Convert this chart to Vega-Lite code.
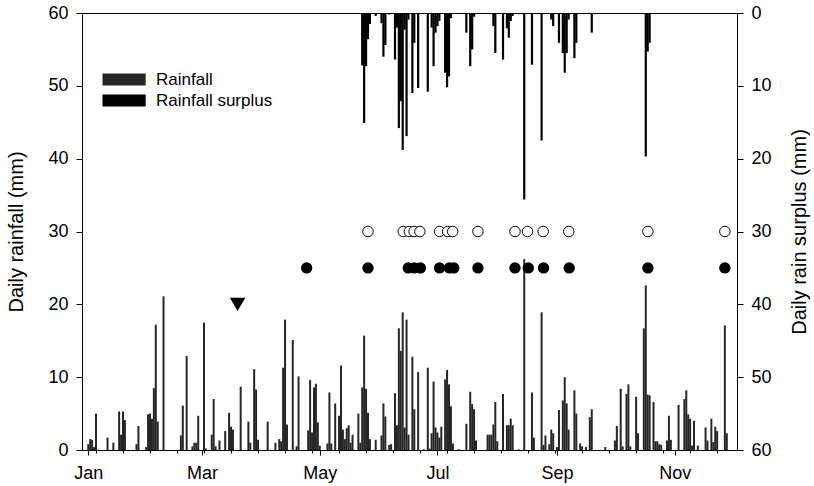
{
  "$schema": "https://vega.github.io/schema/vega-lite/v6.json",
  "autosize": "none",
  "width": 655,
  "height": 437,
  "padding": {"left": 82, "top": 13, "right": 77, "bottom": 36},
  "background": "white",
  "config": {
    "font": "Liberation Sans",
    "view": {"stroke": "black", "strokeWidth": 1},
    "axis": {"domainColor": "black", "tickColor": "black", "labelColor": "black", "titleColor": "black", "labelFont": "Liberation Sans", "titleFont": "Liberation Sans", "labelFontSize": 18, "titleFontSize": 20, "titleFontWeight": "normal", "grid": false, "domainWidth": 1, "tickWidth": 1}
  },
  "datasets": {
    "rain": [
      {"doy":1,"mm":0.8},{"doy":2,"mm":1.5},{"doy":3,"mm":1.4},{"doy":4,"mm":0.4},{"doy":5,"mm":5.0},{"doy":11,"mm":1.7},{"doy":14,"mm":1.0},{"doy":17,"mm":5.3},{"doy":18,"mm":2.1},{"doy":19,"mm":5.3},{"doy":20,"mm":4.1},{"doy":26,"mm":0.8},{"doy":27,"mm":3.3},{"doy":31,"mm":0.4},{"doy":32,"mm":4.9},{"doy":33,"mm":5.0},{"doy":34,"mm":4.3},{"doy":35,"mm":8.5},{"doy":36,"mm":17.2},{"doy":37,"mm":3.9},{"doy":40,"mm":21.1},{"doy":49,"mm":2.0},{"doy":50,"mm":6.1},{"doy":52,"mm":12.9},{"doy":55,"mm":0.5},{"doy":56,"mm":1.0},{"doy":57,"mm":1.0},{"doy":58,"mm":4.7},{"doy":61,"mm":17.5},{"doy":62,"mm":0.2},{"doy":65,"mm":2.1},{"doy":66,"mm":7.0},{"doy":67,"mm":0.5},{"doy":69,"mm":1.3},{"doy":72,"mm":2.6},{"doy":74,"mm":5.1},{"doy":75,"mm":3.2},{"doy":76,"mm":2.8},{"doy":80,"mm":8.7},{"doy":84,"mm":3.9},{"doy":85,"mm":1.0},{"doy":87,"mm":11.1},{"doy":88,"mm":8.3},{"doy":89,"mm":1.4},{"doy":94,"mm":3.9},{"doy":98,"mm":1.0},{"doy":100,"mm":1.5},{"doy":101,"mm":1.2},{"doy":102,"mm":11.3},{"doy":103,"mm":17.9},{"doy":104,"mm":3.5},{"doy":107,"mm":15.1},{"doy":109,"mm":0.5},{"doy":110,"mm":10.1},{"doy":115,"mm":2.7},{"doy":116,"mm":9.6},{"doy":117,"mm":2.4},{"doy":118,"mm":8.6},{"doy":119,"mm":9.1},{"doy":120,"mm":3.8},{"doy":121,"mm":0.6},{"doy":125,"mm":0.9},{"doy":126,"mm":7.9},{"doy":127,"mm":0.9},{"doy":129,"mm":6.4},{"doy":131,"mm":4.7},{"doy":132,"mm":11.6},{"doy":133,"mm":2.8},{"doy":134,"mm":1.5},{"doy":135,"mm":3.0},{"doy":136,"mm":3.4},{"doy":137,"mm":1.0},{"doy":138,"mm":2.1},{"doy":141,"mm":5.0},{"doy":142,"mm":1.0},{"doy":143,"mm":8.6},{"doy":144,"mm":15.7},{"doy":145,"mm":8.4},{"doy":146,"mm":5.1},{"doy":147,"mm":1.5},{"doy":150,"mm":1.4},{"doy":153,"mm":2.0},{"doy":154,"mm":6.4},{"doy":155,"mm":4.6},{"doy":157,"mm":0.7},{"doy":158,"mm":0.8},{"doy":160,"mm":7.8},{"doy":161,"mm":3.4},{"doy":162,"mm":16.7},{"doy":163,"mm":13.6},{"doy":164,"mm":18.9},{"doy":165,"mm":3.1},{"doy":166,"mm":17.9},{"doy":167,"mm":2.1},{"doy":169,"mm":12.8},{"doy":170,"mm":5.6},{"doy":172,"mm":10.7},{"doy":175,"mm":0.1},{"doy":177,"mm":11.3},{"doy":178,"mm":0.2},{"doy":179,"mm":2.3},{"doy":180,"mm":9.4},{"doy":181,"mm":3.1},{"doy":182,"mm":2.4},{"doy":183,"mm":1.7},{"doy":184,"mm":3.2},{"doy":186,"mm":9.7},{"doy":187,"mm":11.0},{"doy":188,"mm":9.0},{"doy":189,"mm":6.0},{"doy":190,"mm":0.9},{"doy":193,"mm":0.1},{"doy":197,"mm":3.6},{"doy":199,"mm":8.0},{"doy":200,"mm":6.3},{"doy":201,"mm":5.6},{"doy":202,"mm":1.3},{"doy":208,"mm":2.1},{"doy":209,"mm":2.1},{"doy":210,"mm":2.1},{"doy":211,"mm":3.5},{"doy":212,"mm":6.6},{"doy":213,"mm":1.2},{"doy":216,"mm":7.7},{"doy":218,"mm":3.4},{"doy":219,"mm":3.4},{"doy":220,"mm":4.3},{"doy":221,"mm":3.4},{"doy":224,"mm":0.1},{"doy":227,"mm":26.2},{"doy":231,"mm":7.9},{"doy":232,"mm":1.7},{"doy":236,"mm":18.9},{"doy":237,"mm":0.7},{"doy":238,"mm":2.0},{"doy":240,"mm":0.8},{"doy":241,"mm":2.8},{"doy":242,"mm":2.3},{"doy":244,"mm":0.4},{"doy":245,"mm":5.5},{"doy":247,"mm":6.8},{"doy":248,"mm":10.0},{"doy":249,"mm":6.4},{"doy":250,"mm":2.8},{"doy":253,"mm":8.2},{"doy":254,"mm":5.0},{"doy":256,"mm":0.9},{"doy":257,"mm":0.5},{"doy":259,"mm":0.4},{"doy":261,"mm":4.5},{"doy":262,"mm":5.6},{"doy":269,"mm":0.4},{"doy":274,"mm":1.3},{"doy":275,"mm":3.3},{"doy":277,"mm":8.4},{"doy":278,"mm":0.5},{"doy":280,"mm":7.7},{"doy":281,"mm":9.0},{"doy":282,"mm":0.5},{"doy":285,"mm":7.3},{"doy":286,"mm":2.3},{"doy":289,"mm":16.7},{"doy":290,"mm":22.6},{"doy":291,"mm":7.6},{"doy":292,"mm":7.5},{"doy":294,"mm":6.6},{"doy":295,"mm":1.2},{"doy":296,"mm":1.2},{"doy":297,"mm":0.8},{"doy":298,"mm":0.7},{"doy":301,"mm":1.3},{"doy":302,"mm":4.7},{"doy":303,"mm":1.4},{"doy":307,"mm":6.2},{"doy":310,"mm":7.0},{"doy":311,"mm":8.2},{"doy":312,"mm":4.9},{"doy":313,"mm":4.3},{"doy":314,"mm":0.6},{"doy":315,"mm":4.0},{"doy":317,"mm":0.6},{"doy":321,"mm":3.1},{"doy":322,"mm":1.3},{"doy":324,"mm":4.3},{"doy":325,"mm":1.1},{"doy":326,"mm":3.2},{"doy":327,"mm":2.6},{"doy":331,"mm":17.1},{"doy":332,"mm":2.3}
    ],
    "surplus": [
      {"doy":143,"mm":7.2},{"doy":144,"mm":15.1},{"doy":145,"mm":7.3},{"doy":146,"mm":3.6},{"doy":147,"mm":1.5},{"doy":150,"mm":0.4},{"doy":153,"mm":1.4},{"doy":154,"mm":6.0},{"doy":155,"mm":4.4},{"doy":157,"mm":0.2},{"doy":160,"mm":6.4},{"doy":161,"mm":2.0},{"doy":162,"mm":15.8},{"doy":163,"mm":12.1},{"doy":164,"mm":18.8},{"doy":165,"mm":2.3},{"doy":166,"mm":16.9},{"doy":167,"mm":0.9},{"doy":169,"mm":11.0},{"doy":170,"mm":4.1},{"doy":172,"mm":10.3},{"doy":177,"mm":10.8},{"doy":179,"mm":2.0},{"doy":180,"mm":7.3},{"doy":181,"mm":2.7},{"doy":182,"mm":1.8},{"doy":183,"mm":1.1},{"doy":186,"mm":8.2},{"doy":187,"mm":10.2},{"doy":188,"mm":8.7},{"doy":189,"mm":0.7},{"doy":197,"mm":2.7},{"doy":199,"mm":7.3},{"doy":200,"mm":5.0},{"doy":201,"mm":0.5},{"doy":211,"mm":1.8},{"doy":212,"mm":5.5},{"doy":216,"mm":6.4},{"doy":218,"mm":2.1},{"doy":219,"mm":3.4},{"doy":220,"mm":1.1},{"doy":221,"mm":0.4},{"doy":227,"mm":25.6},{"doy":231,"mm":7.1},{"doy":236,"mm":17.5},{"doy":241,"mm":0.9},{"doy":242,"mm":1.8},{"doy":245,"mm":4.1},{"doy":247,"mm":5.5},{"doy":248,"mm":8.2},{"doy":249,"mm":5.5},{"doy":250,"mm":0.9},{"doy":253,"mm":6.2},{"doy":254,"mm":4.1},{"doy":262,"mm":2.7},{"doy":290,"mm":19.7},{"doy":291,"mm":5.3},{"doy":292,"mm":4.1}
    ],
    "markers": [
      {"doy":146,"y":30,"kind":"open"},{"doy":164.3,"y":30,"kind":"open"},{"doy":167.4,"y":30,"kind":"open"},{"doy":169.9,"y":30,"kind":"open"},{"doy":172.9,"y":30,"kind":"open"},{"doy":183.1,"y":30,"kind":"open"},{"doy":187.3,"y":30,"kind":"open"},{"doy":189.9,"y":30,"kind":"open"},{"doy":203,"y":30,"kind":"open"},{"doy":222.2,"y":30,"kind":"open"},{"doy":228.7,"y":30,"kind":"open"},{"doy":236.8,"y":30,"kind":"open"},{"doy":250.1,"y":30,"kind":"open"},{"doy":291.1,"y":30,"kind":"open"},{"doy":331,"y":30,"kind":"open"},
      {"doy":114.2,"y":25,"kind":"filled"},{"doy":146,"y":25,"kind":"filled"},{"doy":166.9,"y":25,"kind":"filled"},{"doy":170,"y":25,"kind":"filled"},{"doy":173.2,"y":25,"kind":"filled"},{"doy":183.1,"y":25,"kind":"filled"},{"doy":188.2,"y":25,"kind":"filled"},{"doy":190.5,"y":25,"kind":"filled"},{"doy":203,"y":25,"kind":"filled"},{"doy":222.2,"y":25,"kind":"filled"},{"doy":229.1,"y":25,"kind":"filled"},{"doy":237,"y":25,"kind":"filled"},{"doy":250.3,"y":25,"kind":"filled"},{"doy":291.1,"y":25,"kind":"filled"},{"doy":331,"y":25,"kind":"filled"},
      {"doy":78.4,"y":20,"kind":"triangle"}
    ]
  },
  "layer": [
    {
      "layer": [
        {
          "data": {"name": "rain"},
          "mark": {"type": "bar", "width": 2},
          "encoding": {
            "x": {"field": "doy", "type": "quantitative", "scale": {"domain": [0.34, 334.7], "nice": false, "zero": false},
              "axis": {"orient": "bottom", "title": null, "values": [1, 60, 121, 182, 244, 305], "labelExpr": "datum.value == 1 ? 'Jan' : datum.value == 60 ? 'Mar' : datum.value == 121 ? 'May' : datum.value == 182 ? 'Jul' : datum.value == 244 ? 'Sep' : 'Nov'", "tickSize": 5, "labelPadding": 9, "labelFlush": false, "labelOverlap": false}},
            "y": {"field": "mm", "type": "quantitative", "scale": {"domain": [0, 60], "nice": false, "zero": true},
              "axis": {"orient": "left", "title": "Daily rainfall (mm)", "values": [0, 10, 20, 30, 40, 50, 60], "tickSize": 6, "labelPadding": 8, "titlePadding": 21}},
            "color": {"datum": "Rainfall", "type": "nominal",
              "scale": {"domain": ["Rainfall", "Rainfall surplus"], "range": ["#262626", "#000000"]},
              "legend": {"orient": "none", "legendX": 18, "legendY": 58, "title": null, "symbolType": "M-1,-1H6.2V1H-1Z", "symbolSize": 144, "symbolStrokeWidth": 0, "labelOffset": 39, "labelFontSize": 17, "labelFont": "Liberation Sans", "labelColor": "black", "rowPadding": 3, "padding": 0}}
          }
        },
        {
          "data": {"name": "markers"},
          "transform": [{"filter": "datum.kind == 'open'"}],
          "mark": {"type": "point", "shape": "circle", "filled": true, "fill": "white", "stroke": "black", "strokeWidth": 1, "size": 110, "opacity": 1},
          "encoding": {
            "x": {"field": "doy", "type": "quantitative", "scale": {"domain": [0.34, 334.7], "nice": false, "zero": false}},
            "y": {"field": "y", "type": "quantitative", "scale": {"domain": [0, 60], "nice": false}, "title": "Daily rainfall (mm)"}
          }
        },
        {
          "data": {"name": "markers"},
          "transform": [{"filter": "datum.kind == 'filled'"}],
          "mark": {"type": "point", "shape": "circle", "filled": true, "color": "black", "size": 130, "opacity": 1},
          "encoding": {
            "x": {"field": "doy", "type": "quantitative", "scale": {"domain": [0.34, 334.7], "nice": false, "zero": false}},
            "y": {"field": "y", "type": "quantitative", "scale": {"domain": [0, 60], "nice": false}, "title": "Daily rainfall (mm)"}
          }
        },
        {
          "data": {"name": "markers"},
          "transform": [{"filter": "datum.kind == 'triangle'"}],
          "mark": {"type": "point", "shape": "triangle-down", "filled": true, "color": "black", "size": 240, "opacity": 1},
          "encoding": {
            "x": {"field": "doy", "type": "quantitative", "scale": {"domain": [0.34, 334.7], "nice": false, "zero": false}},
            "y": {"field": "y", "type": "quantitative", "scale": {"domain": [0, 60], "nice": false}, "title": "Daily rainfall (mm)"}
          }
        }
      ]
    },
    {
      "data": {"name": "surplus"},
      "mark": {"type": "bar", "width": 2.2},
      "encoding": {
        "x": {"field": "doy", "type": "quantitative", "scale": {"domain": [0.34, 334.7], "nice": false, "zero": false},
          "axis": {"orient": "bottom", "title": null, "labels": false, "domain": false, "tickSize": 3, "values": [5, 19, 33, 47, 61, 75, 89, 103, 117, 131, 145, 159, 173, 187, 201, 215, 229, 243, 257, 271, 285, 299, 313, 327]}},
        "y": {"field": "mm", "type": "quantitative", "scale": {"domain": [0, 60], "reverse": true, "nice": false, "zero": true},
          "axis": {"orient": "right", "title": "Daily rain surplus (mm)", "titleAngle": 270, "titleBaseline": "top", "values": [0, 10, 20, 30, 40, 50, 60], "tickSize": 6, "labelPadding": 8, "titlePadding": 18}},
        "color": {"datum": "Rainfall surplus", "type": "nominal"}
      }
    }
  ],
  "resolve": {"scale": {"y": "independent"}, "axis": {"x": "independent"}}
}
